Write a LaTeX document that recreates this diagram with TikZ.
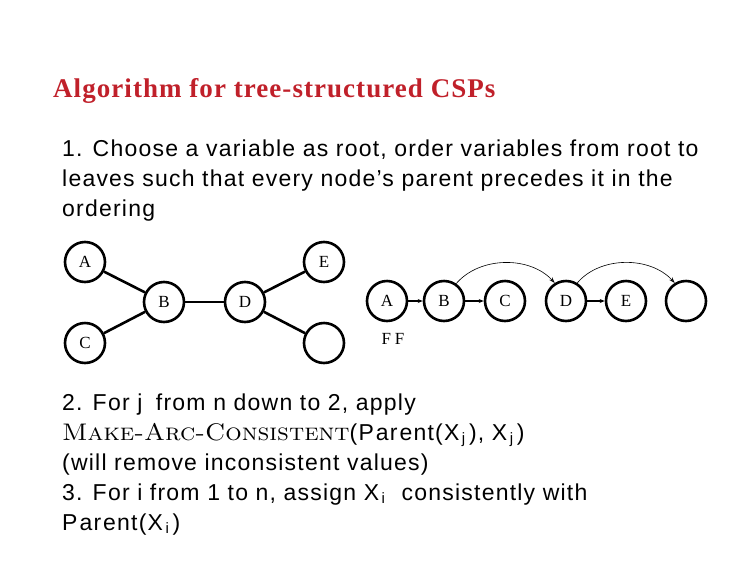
\documentclass[tikz,border=0pt]{standalone}
\usepackage{fontspec}
\newfontfamily\titlefont[LetterSpace=3.9]{Liberation Serif}
\newfontfamily\bodyfont[LetterSpace=5.3]{Liberation Sans}
\newfontfamily\labelfont{Liberation Serif}
\usetikzlibrary{arrows.meta}
\definecolor{titlered}{RGB}{192,32,42}
\newcommand\lowidx[1]{\raisebox{-3pt}{\fontsize{15}{15}\selectfont\,#1}}

\begin{document}
\begin{tikzpicture}[x=1pt,y=-1pt,
    var/.style={draw,circle,line width=2.6pt,minimum size=40pt,inner sep=0pt,font=\labelfont\fontsize{17}{17}\selectfont},
    tree/.style={line width=2.6pt},
    nextarc/.style={line width=1.2pt,-{Stealth[length=5pt,width=4pt]}},
    jumparc/.style={line width=0.6pt,-{Stealth[length=6pt,width=4pt,open]}},
    line/.style={anchor=base west,inner sep=0pt,font=\bodyfont\fontsize{23}{30}\selectfont}]
    \useasboundingbox (0,0) rectangle (752,584);
    \node[anchor=base west,inner sep=0pt,text=titlered,font=\titlefont\bfseries\fontsize{27}{27}\selectfont] (title) at (53,97) {Algorithm for tree-structured CSPs};
    \node[line] (s1a) at (62,156) {1. Choose a variable as root, order variables from root to};
    \node[line] (s1b) at (62,186) {leaves such that every node’s parent precedes it in the};
    \node[line] (s1c) at (62,216) {ordering};
    \foreach \n/\x/\y/\t in {tA/85/262/A, tB/164/302/B, tC/85/343/C, tD/245/302/D, tE/324/262/E, tF/324/343/{}}
        \node[var] (\n) at (\x,\y) {\t};
    \foreach \a/\b in {tA/tB, tC/tB, tB/tD, tD/tE, tD/tF}
        \draw[tree] (\a) -- (\b);
    \foreach \n/\x/\t in {cA/387/A, cB/444/B, cC/505/C, cD/566/D, cE/626/E, cF/686/{}}
        \node[var] (\n) at (\x,301) {\t};
    \foreach \a/\b in {cA/cB, cB/cC, cD/cE}
        \draw[nextarc] (\a) -- (\b);
    \draw[jumparc] (cB.55) .. controls (480,256) and (530,256) .. (cD.122);
    \draw[jumparc] (cD.58) .. controls (600,256) and (650,256) .. (cF.122);
    \node[font=\labelfont\fontsize{17}{17}\selectfont] (ff) at (393,339) {F\hspace{4pt}F};
    \node[line] (s2a) at (62,410) {2. For j\hspace{6pt} from n down to 2, apply};
    \node[line] (s2b) at (62,440) {\scalebox{1.075}[1]{\rmfamily\fontsize{24}{30}\selectfont\scshape\addfontfeature{LetterSpace=10}Make-Arc-Consistent}(P\hspace{2pt}ar\hspace{2pt}ent(X\lowidx{j}\,), X\lowidx{j}\,)};
    \node[line] (s2c) at (62,470) {(will remove inconsistent values)};
    \node[line] (s2d) at (62,500) {3. For i from 1 to n, assign X\lowidx{i}\hspace{9pt} consistently with};
    \node[line] (s2e) at (62,530) {P\hspace{2pt}ar\hspace{2pt}ent(X\lowidx{i}\,)};
\end{tikzpicture}
\end{document}
